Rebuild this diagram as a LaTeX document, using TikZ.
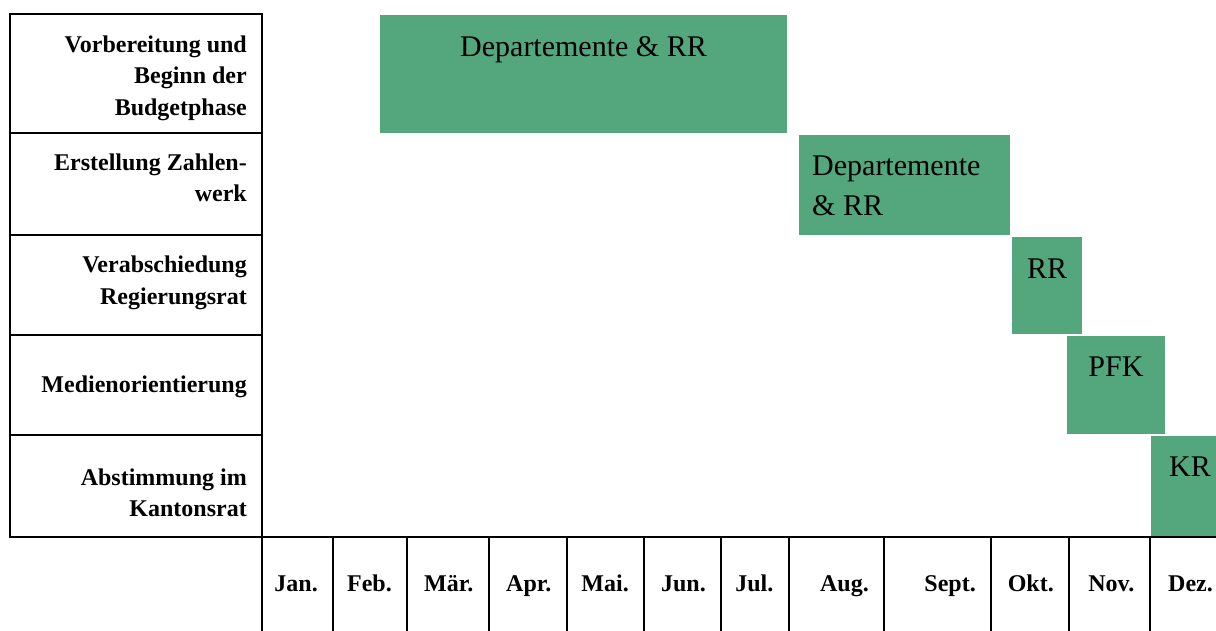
\documentclass[tikz,border=0pt]{standalone}
\usepackage{fontspec}
\setmainfont{Liberation Serif}
\usetikzlibrary{calc}
\definecolor{gantt}{RGB}{84,166,124}
\begin{document}
\begin{tikzpicture}[x=1pt,y=-1pt,
  grid/.style={line width=2pt, draw=black},
  gbox/.style={fill=gantt, draw=none, inner sep=0pt, outer sep=0pt, anchor=north west},
  btext/.style={font=\fontsize{30}{40.7}\selectfont, inner sep=0pt},
  lab/.style={font=\bfseries\fontsize{24}{31.5}\selectfont, align=right, inner sep=0pt, anchor=base east},
  mon/.style={font=\bfseries\fontsize{24}{30}\selectfont, inner sep=0pt, anchor=base east}]
\useasboundingbox (0,0) rectangle (1216,630);

% green bars
\node[gbox, minimum width=407pt, minimum height=118pt] (b1) at (380,15) {};
\node[gbox, minimum width=211pt, minimum height=100pt] (b2) at (799,135) {};
\node[gbox, minimum width=70pt,  minimum height=97pt]  (b3) at (1012,237) {};
\node[gbox, minimum width=98pt,  minimum height=98pt]  (b4) at (1067,336) {};
\node[gbox, minimum width=78pt,  minimum height=101pt] (b5) at (1151,436) {};

% table lines
\draw[grid] (10,14) rectangle (262,537);
\foreach \y in {133,235,335,435} \draw[grid] (10,\y) -- (262,\y);
\draw[grid] (10,537) -- (1230,537);
\foreach \x in {262,333,407,488.5,566.5,644,721,788.5,884,991,1069,1149.5}
  \draw[grid] (\x,537) -- (\x,632);

% bar texts (multi-line nodes: base = last line)
\node[btext, anchor=base] (t1) at (583.5,56.7) {Departemente \& RR};
\node[btext, anchor=base west, align=left] (t2) at (812,215.7) {Departemente\\\& RR};
\node[btext, anchor=base] (t3) at (1047,278.3) {RR};
\node[btext, anchor=base] (t4) at (1116,376.7) {PFK};
\node[btext, anchor=base] (t5) at (1190,476.7) {KR};

% row labels
\node[lab] (l1) at (247,115) {Vorbereitung und\\Beginn der\\Budgetphase};
\node[lab] (l2) at (247,201.7) {Erstellung Zahlen-\\werk};
\node[lab] (l3) at (247,304) {Verabschiedung\\Regierungsrat};
\node[lab] (l4) at (247,392.7) {Medienorientierung};
\node[lab] (l5) at (247,516.7) {Abstimmung im\\Kantonsrat};

% months
\foreach \m/\x [count=\i] in {Jan./333,Feb./407,Mär./488.5,Apr./566.5,Mai./644,Jun./721,Jul./788.5,Aug./884,Sept./991,Okt./1069,Nov./1149.5,Dez./1228}
  \node[mon] (m\i) at ({\x-15},591.7) {\m};
\end{tikzpicture}
\end{document}
